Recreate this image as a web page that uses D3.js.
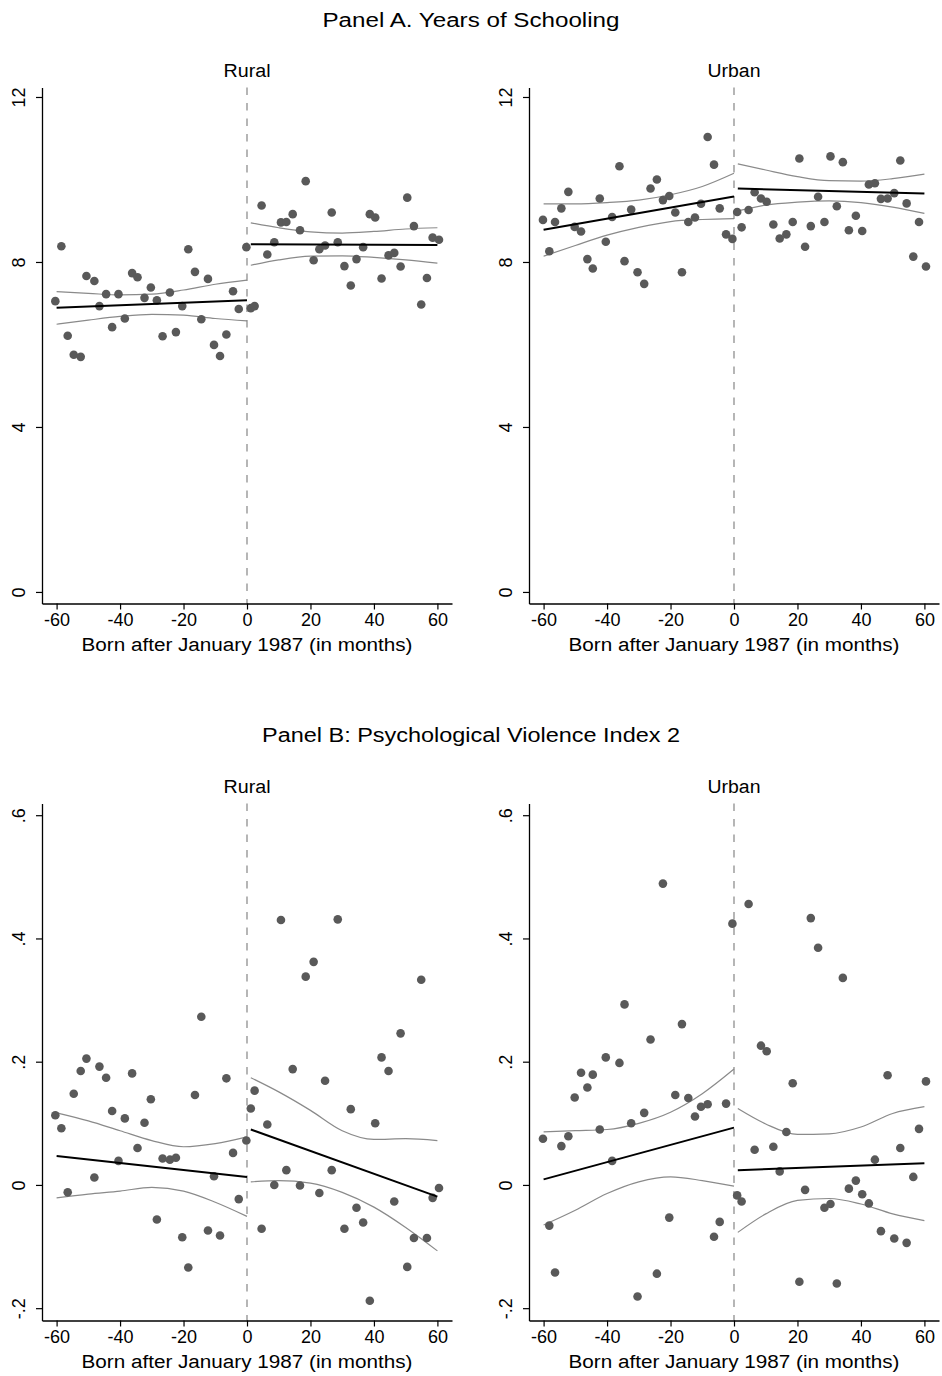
<!DOCTYPE html>
<html><head><meta charset="utf-8">
<script src="https://cdn.jsdelivr.net/npm/d3@7"></script>
<style>
html,body{margin:0;padding:0;background:#fff;}
text{font-family:"Liberation Sans",Arial,sans-serif;fill:#000;}
</style></head>
<body>
<svg id="chart" width="942" height="1376"></svg>
<script>
// ---------- DATA ----------
const panelTitles = ["Panel A. Years of Schooling", "Panel B: Psychological Violence Index 2"];
const groups = ["Rural", "Urban"];
const xTitle = "Born after January 1987 (in months)";
const xTicks = [-60, -40, -20, 0, 20, 40, 60];
const yTicksA = [0, 4, 8, 12];
const yTickLabelsA = ["0", "4", "8", "12"];
const yTicksB = [-0.2, 0, 0.2, 0.4, 0.6];
const yTickLabelsB = ["-.2", "0", ".2", ".4", ".6"];

// months since January 1987 (bin positions)
const ruralMonths = [-60.4,-58.5,-56.5,-54.6,-52.4,-50.6,-48.1,-46.5,-44.4,-42.5,-40.5,-38.5,-36.2,-34.5,-32.3,-30.3,-28.4,-26.6,-24.3,-22.4,-20.4,-18.5,-16.4,-14.4,-12.3,-10.4,-8.5,-6.5,-4.4,-2.6,-0.2,
  1.2,2.4,4.6,6.4,8.6,10.7,12.4,14.4,16.7,18.5,21.0,22.8,24.6,26.7,28.6,30.7,32.7,34.5,36.6,38.7,40.4,42.4,44.6,46.4,48.4,50.5,52.6,54.9,56.7,58.5,60.5];
const urbanMonths = [-60.2,-58.2,-56.4,-54.4,-52.2,-50.2,-48.2,-46.2,-44.5,-42.3,-40.4,-38.4,-36.1,-34.5,-32.4,-30.4,-28.3,-26.3,-24.3,-22.4,-20.4,-18.5,-16.4,-14.4,-12.3,-10.4,-8.3,-6.3,-4.5,-2.5,-0.5,
  1.0,2.4,4.6,6.5,8.5,10.3,12.4,14.4,16.5,18.5,20.6,22.4,24.2,26.5,28.5,30.4,32.4,34.3,36.2,38.4,40.4,42.5,44.4,46.3,48.4,50.5,52.4,54.4,56.5,58.3,60.5];

// Panel A: years of schooling (bin means)
const schoolingRural = [7.05,8.38,6.21,5.75,5.70,7.66,7.54,6.93,7.22,6.42,7.22,6.63,7.73,7.63,7.13,7.38,7.07,6.20,7.26,6.30,6.93,8.31,7.76,6.61,7.59,5.99,5.72,6.24,7.29,6.86,8.36,
  6.88,6.93,9.37,8.18,8.48,8.96,8.97,9.16,8.77,9.96,8.04,8.31,8.40,9.20,8.48,7.90,7.43,8.07,8.36,9.16,9.08,7.60,8.16,8.22,7.89,9.56,8.87,6.97,7.61,8.59,8.54];
const schoolingUrban = [9.02,8.26,8.97,9.30,9.70,8.85,8.74,8.07,7.84,9.54,8.49,9.09,10.32,8.02,9.27,7.75,7.47,9.78,10.00,9.50,9.60,9.20,7.75,8.97,9.08,9.41,11.03,10.36,9.30,8.67,8.56,
  9.21,8.84,9.26,9.69,9.54,9.46,8.91,8.57,8.67,8.97,10.51,8.37,8.87,9.58,8.97,10.56,9.35,10.42,8.77,9.12,8.75,9.88,9.91,9.53,9.54,9.67,10.46,9.42,8.13,8.97,7.89];

// Panel B: psychological violence index 2 (bin means)
const violenceRural = [0.113,0.092,-0.012,0.148,0.185,0.205,0.012,0.192,0.174,0.120,0.039,0.108,0.181,0.060,0.101,0.139,-0.056,0.043,0.041,0.044,-0.085,-0.134,0.146,0.273,-0.074,0.014,-0.082,0.173,0.052,-0.023,0.072,
  0.124,0.153,-0.071,0.098,0.000,0.430,0.024,0.188,-0.001,0.338,0.362,-0.013,0.169,0.024,0.431,-0.071,0.123,-0.037,-0.061,-0.188,0.100,0.207,0.185,-0.027,0.246,-0.133,-0.086,0.333,-0.086,-0.021,-0.005];
const violenceUrban = [0.075,-0.066,-0.142,0.063,0.079,0.142,0.182,0.158,0.179,0.090,0.207,0.039,0.198,0.293,0.100,-0.181,0.117,0.236,-0.144,0.489,-0.053,0.146,0.261,0.141,0.111,0.127,0.131,-0.084,-0.060,0.132,0.424,
  -0.017,-0.027,0.456,0.057,0.226,0.217,0.062,0.022,0.086,0.165,-0.157,-0.008,0.433,0.385,-0.037,-0.031,-0.160,0.336,-0.006,0.007,-0.015,-0.030,0.041,-0.075,0.178,-0.087,0.060,-0.094,0.013,0.091,0.168];

// Linear fits (values at the segment ends)
const fitXLeft = [-60, 0];
const fitXRight = [1.2, 60];
const fitSchoolingRural = {left: [6.89, 7.07], right: [8.43, 8.41]};
const fitSchoolingUrban = {left: [8.78, 9.59], right: [9.78, 9.66]};
const fitViolenceRural = {left: [0.047, 0.013], right: [0.090, -0.019]};
const fitViolenceUrban = {left: [0.009, 0.093], right: [0.024, 0.035]};

// 95% confidence bands
const ciXLeft = [-60, -50, -40, -30, -20, -10, 0];
const ciXRight = [1.2, 10, 20, 30, 40, 50, 60];
const ciSchoolingRural = {
  leftUpper: [7.28, 7.24, 7.20, 7.22, 7.32, 7.46, 7.56], leftLower: [6.49, 6.59, 6.68, 6.73, 6.71, 6.63, 6.57],
  rightUpper: [8.95, 8.83, 8.73, 8.70, 8.74, 8.80, 8.83], rightLower: [7.92, 8.05, 8.14, 8.15, 8.11, 8.05, 7.97]};
const ciSchoolingUrban = {
  leftUpper: [9.41, 9.41, 9.44, 9.50, 9.63, 9.83, 10.15], leftLower: [8.14, 8.40, 8.65, 8.84, 8.98, 9.03, 9.05],
  rightUpper: [10.38, 10.23, 10.07, 9.97, 9.96, 10.02, 10.13], rightLower: [9.24, 9.38, 9.45, 9.48, 9.44, 9.33, 9.18]};
const ciViolenceRural = {
  leftUpper: [0.117, 0.104, 0.088, 0.072, 0.062, 0.067, 0.078], leftLower: [-0.021, -0.015, -0.010, -0.004, -0.010, -0.028, -0.051],
  rightUpper: [0.174, 0.151, 0.121, 0.088, 0.074, 0.075, 0.072], rightLower: [0.005, 0.007, 0.003, -0.012, -0.036, -0.069, -0.107]};
const ciViolenceUrban = {
  leftUpper: [0.086, 0.088, 0.090, 0.100, 0.118, 0.148, 0.188], leftLower: [-0.065, -0.041, -0.014, 0.005, 0.013, 0.007, -0.002],
  rightUpper: [0.124, 0.099, 0.082, 0.083, 0.094, 0.116, 0.127], rightLower: [-0.077, -0.047, -0.025, -0.022, -0.031, -0.047, -0.058]};

// ---------- DRAWING ----------
const svg = d3.select("#chart");
const FS = 18;
const DOT = "#595959";

const panels = [
  {row: 0, col: 0, xs: ruralMonths, ys: schoolingRural, fit: fitSchoolingRural, ci: ciSchoolingRural},
  {row: 0, col: 1, xs: urbanMonths, ys: schoolingUrban, fit: fitSchoolingUrban, ci: ciSchoolingUrban},
  {row: 1, col: 0, xs: ruralMonths, ys: violenceRural, fit: fitViolenceRural, ci: ciViolenceRural},
  {row: 1, col: 1, xs: urbanMonths, ys: violenceUrban, fit: fitViolenceUrban, ci: ciViolenceUrban}
];
const colLeft = [42, 529];
const rowGeom = [
  {top: 87.5, bottom: 603.5, domain: [-0.28, 12.23], ticks: yTicksA, labels: yTickLabelsA},
  {top: 803.5, bottom: 1320.5, domain: [-0.22, 0.619], ticks: yTicksB, labels: yTickLabelsB}
];
const titleWidths = [297, 418];
const groupWidths = [47, 53];

// titles
[27, 742].forEach((y, i) => {
  svg.append("text").attr("x", 471).attr("y", y).attr("text-anchor", "middle")
    .attr("font-size", 20).attr("textLength", titleWidths[i]).attr("lengthAdjust", "spacingAndGlyphs")
    .text(panelTitles[i]);
});

panels.forEach(p => {
  const rg = rowGeom[p.row];
  const x0 = colLeft[p.col];
  const x = d3.scaleLinear().domain([-64.6, 64.6]).range([x0, x0 + 410]);
  const y = d3.scaleLinear().domain(rg.domain).range([rg.bottom, rg.top]);
  const g = svg.append("g");

  // subtitle
  g.append("text").attr("x", x(0)).attr("y", rg.top - 11).attr("text-anchor", "middle")
    .attr("font-size", FS).attr("textLength", groupWidths[p.col]).attr("lengthAdjust", "spacingAndGlyphs")
    .text(groups[p.col]);

  // cutoff line
  g.append("line").attr("x1", x(0)).attr("x2", x(0)).attr("y1", rg.top).attr("y2", rg.bottom)
    .attr("stroke", "#7a7a7a").attr("stroke-width", 1.1).attr("stroke-dasharray", "7.5,8");

  // CI bands
  const line = d3.line().x(d => x(d[0])).y(d => y(d[1])).curve(d3.curveMonotoneX);
  [["leftUpper", ciXLeft], ["leftLower", ciXLeft], ["rightUpper", ciXRight], ["rightLower", ciXRight]].forEach(([k, xv]) => {
    g.append("path").attr("d", line(xv.map((v, i) => [v, p.ci[k][i]])))
      .attr("fill", "none").attr("stroke", "#8a8a8a").attr("stroke-width", 1.2);
  });

  // dots
  g.selectAll("circle").data(p.xs.map((v, i) => [v, p.ys[i]])).join("circle")
    .attr("cx", d => x(d[0])).attr("cy", d => y(d[1])).attr("r", 4.3).attr("fill", DOT);

  // fit lines
  const lin = d3.line().x(d => x(d[0])).y(d => y(d[1]));
  g.append("path").attr("d", lin(fitXLeft.map((v, i) => [v, p.fit.left[i]])))
    .attr("fill", "none").attr("stroke", "#000").attr("stroke-width", 2);
  g.append("path").attr("d", lin(fitXRight.map((v, i) => [v, p.fit.right[i]])))
    .attr("fill", "none").attr("stroke", "#000").attr("stroke-width", 2);

  // x axis
  const xa = g.append("g").attr("transform", `translate(0,${rg.bottom})`)
    .call(d3.axisBottom(x).tickValues(xTicks).tickSize(6).tickSizeOuter(0).tickFormat(d => String(d)));
  xa.select(".domain").attr("stroke", "#000").attr("stroke-width", 1.3);
  xa.selectAll(".tick line").attr("stroke", "#000").attr("stroke-width", 1.2);
  xa.selectAll(".tick text").attr("font-size", FS).attr("font-family", "Liberation Sans, Arial, sans-serif")
    .attr("y", 10).attr("dy", "0.71em").attr("fill", "#000");
  g.append("text").attr("x", x(0)).attr("y", rg.bottom + 47).attr("text-anchor", "middle")
    .attr("font-size", FS).attr("textLength", 331).attr("lengthAdjust", "spacingAndGlyphs").text(xTitle);

  // y axis
  const ya = g.append("g").attr("transform", `translate(${x0},0)`)
    .call(d3.axisLeft(y).tickValues(rg.ticks).tickSize(6).tickSizeOuter(0)
      .tickFormat((d, i) => rg.labels[i]));
  ya.select(".domain").attr("stroke", "#000").attr("stroke-width", 1.3);
  ya.selectAll(".tick line").attr("stroke", "#000").attr("stroke-width", 1.2);
  ya.selectAll(".tick text").attr("font-size", FS).attr("font-family", "Liberation Sans, Arial, sans-serif")
    .attr("fill", "#000").attr("x", null).attr("dy", null)
    .attr("text-anchor", "middle").attr("transform", "translate(-17,0) rotate(-90)");
});
</script>
</body></html>
